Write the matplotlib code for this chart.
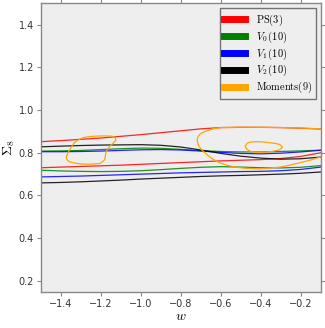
import numpy as np
import matplotlib.pyplot as plt
from matplotlib.lines import Line2D

plt.rcParams['mathtext.fontset'] = 'cm'
plt.rcParams['font.family'] = 'DejaVu Sans'

# contour boundaries (w, Sigma_8)
w_grid = [-1.5, -1.4, -1.3, -1.2, -1.1, -1.0, -0.9, -0.8,
          -0.7, -0.6, -0.5, -0.4, -0.3, -0.2, -0.1]

ps_hi = [0.852, 0.857, 0.863, 0.869, 0.877, 0.885, 0.894, 0.903,
         0.912, 0.918, 0.919, 0.919, 0.918, 0.915, 0.911]
ps_lo = [0.730, 0.733, 0.736, 0.739, 0.742, 0.746, 0.750, 0.754,
         0.758, 0.762, 0.765, 0.768, 0.773, 0.783, 0.800]

v0_hi = [0.808, 0.809, 0.811, 0.815, 0.819, 0.822, 0.821, 0.816,
         0.810, 0.806, 0.804, 0.804, 0.806, 0.809, 0.812]
v0_lo = [0.718, 0.715, 0.713, 0.712, 0.713, 0.716, 0.721, 0.727,
         0.732, 0.735, 0.733, 0.730, 0.729, 0.732, 0.740]

v1_hi = [0.805, 0.805, 0.806, 0.808, 0.811, 0.814, 0.815, 0.813,
         0.808, 0.802, 0.797, 0.795, 0.798, 0.804, 0.812]
v1_lo = [0.687, 0.689, 0.691, 0.694, 0.697, 0.700, 0.703, 0.706,
         0.708, 0.710, 0.712, 0.713, 0.716, 0.722, 0.733]

v2_hi = [0.828, 0.831, 0.834, 0.836, 0.837, 0.838, 0.835, 0.827,
         0.813, 0.797, 0.784, 0.775, 0.770, 0.772, 0.780]
v2_lo = [0.659, 0.661, 0.664, 0.668, 0.672, 0.677, 0.681, 0.685,
         0.689, 0.692, 0.694, 0.697, 0.700, 0.704, 0.710]

# Moments(9) contour pieces
mom_a_w = [-1.372, -1.365, -1.355, -1.343, -1.330, -1.310, -1.288, -1.255, -1.222,
           -1.185, -1.147, -1.128, -1.125, -1.138, -1.155, -1.168, -1.175,
           -1.178, -1.180, -1.192, -1.205, -1.240, -1.272, -1.305, -1.338,
           -1.357, -1.367, -1.373, -1.372]
mom_a_s = [0.784, 0.800, 0.816, 0.834, 0.850, 0.862, 0.871, 0.876, 0.878,
           0.879, 0.878, 0.871, 0.859, 0.845, 0.831, 0.815, 0.800,
           0.785, 0.769, 0.758, 0.750, 0.747, 0.747, 0.748, 0.753,
           0.758, 0.765, 0.774, 0.784]

mom_b_w = [-0.1, -0.2, -0.35, -0.5, -0.6, -0.640, -0.672, -0.693, -0.705, -0.714,
           -0.718, -0.716, -0.710, -0.697, -0.680, -0.660, -0.638, -0.608, -0.572,
           -0.530, -0.488, -0.445, -0.405, -0.355, -0.305, -0.255, -0.205,
           -0.150, -0.1]
mom_b_s = [0.912, 0.916, 0.919, 0.920, 0.918, 0.912, 0.902, 0.894, 0.886, 0.875,
           0.863, 0.847, 0.831, 0.815, 0.800, 0.784, 0.769, 0.754, 0.742,
           0.734, 0.728, 0.726, 0.725, 0.728, 0.733, 0.742, 0.753,
           0.766, 0.781]

mom_c_w = [-0.477, -0.472, -0.463, -0.445, -0.422, -0.390, -0.355, -0.328, -0.305,
           -0.292, -0.300, -0.313, -0.340, -0.372, -0.405, -0.438, -0.455, -0.468,
           -0.475, -0.477]
mom_c_s = [0.831, 0.840, 0.847, 0.851, 0.852, 0.851, 0.847, 0.844, 0.839,
           0.827, 0.818, 0.812, 0.807, 0.803, 0.802, 0.803, 0.808, 0.816,
           0.824, 0.831]

labels = [r'$\mathrm{PS(3)}$', r'$V_0\,\mathrm{(10)}$', r'$V_1\,\mathrm{(10)}$',
          r'$V_2\,\mathrm{(10)}$', r'$\mathrm{Moments(9)}$']
colors = ['red', 'green', 'blue', 'black', 'orange']

fig = plt.figure(figsize=(3.25, 3.28), dpi=100)
ax = fig.add_axes([0.126, 0.111, 0.861, 0.879])
ax.set_facecolor('#eeeeee')

for hi, lo, c in zip([ps_hi, v0_hi, v1_hi, v2_hi], [ps_lo, v0_lo, v1_lo, v2_lo], colors):
    ax.plot(w_grid, hi, color=c, lw=0.9, alpha=0.85)
    ax.plot(w_grid, lo, color=c, lw=0.9, alpha=0.85)

for mw, ms in [(mom_a_w, mom_a_s), (mom_b_w, mom_b_s), (mom_c_w, mom_c_s)]:
    ax.plot(mw, ms, color='orange', lw=0.9)

ax.set_xlim(-1.5, -0.1)
ax.set_ylim(0.15, 1.5)
ax.set_xticks([-1.4, -1.2, -1.0, -0.8, -0.6, -0.4, -0.2])
ax.set_yticks([0.2, 0.4, 0.6, 0.8, 1.0, 1.2, 1.4])
ax.tick_params(direction='out', length=3, width=0.8, color='#888888', pad=2,
               labelsize=7, labelcolor='#333333', top=True, right=True)
for sp in ax.spines.values():
    sp.set_color('#888888')
    sp.set_linewidth(1.0)

ax.set_xlabel(r'$w$', fontsize=10, labelpad=0)
ax.set_ylabel(r'$\Sigma_8$', fontsize=10, labelpad=1)

handles = [Line2D([], [], color=c, lw=5) for c in colors]
leg = ax.legend(handles, labels, loc='upper right', fontsize=7.5, fancybox=False,
                handlelength=2.0, handletextpad=1.0, borderpad=0.4,
                labelspacing=0.15, borderaxespad=0.0,
                bbox_to_anchor=(0.983, 0.982))
leg.get_frame().set_edgecolor('#555555')
leg.get_frame().set_facecolor('#eeeeee')
leg.get_frame().set_linewidth(1.0)

fig.savefig('out.png', dpi=100)
